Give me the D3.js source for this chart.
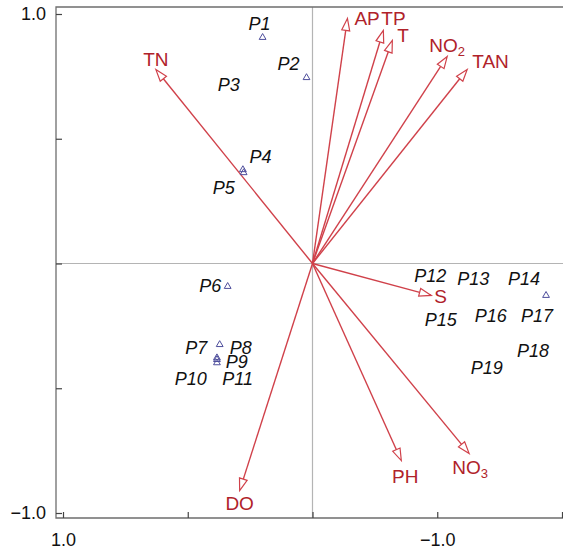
<!DOCTYPE html>
<html>
<head>
<meta charset="utf-8">
<script src="https://cdn.jsdelivr.net/npm/d3@7"></script>
<style>
  body { margin: 0; background: #fff; }
  svg { font-family: "Liberation Sans", Arial, sans-serif; }
</style>
</head>
<body>
<script>
// environmental vectors (axis 1, axis 2)
const envNames = ['TN', 'AP', 'TP', 'T', 'NO2', 'TAN', 'S', 'PH', 'NO3', 'DO'];
const envX = [0.628, -0.14, -0.284, -0.32, -0.54, -0.62, -0.476, -0.356, -0.628, 0.292];
const envY = [0.778, 0.982, 0.934, 0.894, 0.83, 0.778, -0.128, -0.79, -0.762, -0.91];

// sample scores (labels)
const siteNames = ['P1','P2','P3','P4','P5','P6','P7','P8','P9','P10','P11','P12','P13','P14','P15','P16','P17','P18','P19'];
const siteX = [0.212, 0.096, 0.336, 0.208, 0.356, 0.41, 0.466, 0.288, 0.304, 0.488, 0.3, -0.472, -0.644, -0.848, -0.514, -0.714, -0.9, -0.884, -0.698];
const siteY = [0.96, 0.8, 0.719, 0.427, 0.303, -0.09, -0.335, -0.335, -0.391, -0.463, -0.463, -0.05, -0.062, -0.062, -0.226, -0.21, -0.21, -0.347, -0.415];

// triangle markers
const triX = [0.2, 0.024, 0.279, 0.276, 0.34, 0.372, 0.383, 0.383, 0.383, -0.936];
const triY = [0.906, 0.745, 0.376, 0.364, -0.092, -0.325, -0.378, -0.385, -0.398, -0.128];

// axis ticks
const xTicks = [1, 0.5, 0, -0.5, -1];
const xTickLabels = ['1.0', '', '', '\u22121.0', ''];
const yTicks = [1, 0.5, 0, -0.5, -1];
const yTickLabels = ['1.0', '', '', '', '\u22121.0'];

// label placement for vectors (pixel offsets from arrow tip)
const envLabelPos = {
  TN: [0, -3, 'middle'], AP: [7, 7, 'start'], TP: [-2, -5, 'start'], T: [5, 2, 'start'],
  NO2: [-18, -4, 'start'], TAN: [5, -1, 'start'], S: [3, 8, 'start'],
  PH: [4, 22, 'middle'], NO3: [-17, 20, 'start'], DO: [0, 19, 'middle']
};

const W = 563, H = 550;
const frameL = 56, frameT = 7, frameB = 518;
const arrowCol = '#d0414a', labelCol = '#b0222a';

const svg = d3.select('body').append('svg').attr('width', W).attr('height', H);

const x = d3.scaleLinear().domain([1, -1]).range([63, 562]);
const y = d3.scaleLinear().domain([-1, 1]).range([513, 14]);

// zero lines
svg.append('line').attr('x1', x(0)).attr('x2', x(0)).attr('y1', frameT).attr('y2', frameB)
  .attr('stroke', '#b4b4b4').attr('stroke-width', 1.2);
svg.append('line').attr('x1', frameL).attr('x2', W).attr('y1', y(0)).attr('y2', y(0))
  .attr('stroke', '#b4b4b4').attr('stroke-width', 1.2);

// frame
svg.append('path').attr('d', `M${W},${frameT}H${frameL}V${frameB}H${W}`)
  .attr('fill', 'none').attr('stroke', '#6e6e6e').attr('stroke-width', 1.3);

const yAxis = d3.axisLeft(y).tickValues(yTicks).tickSize(-6).tickPadding(10)
  .tickFormat((d, i) => yTickLabels[i]);
const gy = svg.append('g').attr('transform', `translate(${frameL},0)`).call(yAxis);

const xAxis = d3.axisBottom(x).tickValues(xTicks).tickSize(-6).tickPadding(15)
  .tickFormat((d, i) => xTickLabels[i]);
const gx = svg.append('g').attr('transform', `translate(0,${frameB})`).call(xAxis);

[gx, gy].forEach(g => {
  g.select('.domain').remove();
  g.selectAll('.tick line').attr('stroke', '#444').attr('stroke-width', 1.2);
  g.selectAll('.tick text').attr('fill', '#111').style('font-size', '18px');
});

// arrows
const ox = x(0), oy = y(0);
const env = envNames.map((n, i) => ({ name: n, x: envX[i], y: envY[i] }));
const ag = svg.append('g');
env.forEach(d => {
  const tx = x(d.x), ty = y(d.y);
  const a = Math.atan2(ty - oy, tx - ox);
  const hl = 12, hw = 4;
  const bx = tx - hl * Math.cos(a), by = ty - hl * Math.sin(a);
  ag.append('line').attr('x1', ox).attr('y1', oy).attr('x2', bx).attr('y2', by)
    .attr('stroke', arrowCol).attr('stroke-width', 1.4);
  const p1 = [bx + hw * Math.sin(a), by - hw * Math.cos(a)];
  const p2 = [bx - hw * Math.sin(a), by + hw * Math.cos(a)];
  ag.append('path').attr('d', `M${tx},${ty}L${p1}L${p2}Z`)
    .attr('fill', '#fff').attr('stroke', arrowCol).attr('stroke-width', 1.2);

  const lp = envLabelPos[d.name];
  const t = ag.append('text').attr('x', tx + lp[0]).attr('y', ty + lp[1])
    .attr('text-anchor', lp[2]).attr('fill', labelCol).style('font-size', '19px');
  const m = d.name.match(/^(NO)(\d)$/);
  if (m) {
    t.append('tspan').text(m[1]);
    t.append('tspan').text(m[2]).attr('dy', 4).style('font-size', '13px');
  } else {
    t.text(d.name);
  }
});

// triangles
const tri = triX.map((v, i) => [v, triY[i]]);
svg.append('g').selectAll('path').data(tri).join('path')
  .attr('transform', d => `translate(${x(d[0])},${y(d[1])})`)
  .attr('d', d3.symbol(d3.symbolTriangle, 20))
  .attr('fill', 'none').attr('stroke', '#4e4e9c').attr('stroke-width', 1);

// site labels
const sites = siteNames.map((n, i) => ({ name: n, x: siteX[i], y: siteY[i] }));
svg.append('g').selectAll('text').data(sites).join('text')
  .attr('x', d => x(d.x)).attr('y', d => y(d.y)).attr('dy', '0.36em')
  .attr('text-anchor', 'middle')
  .style('font-size', '18px').style('font-style', 'italic').attr('fill', '#111')
  .text(d => d.name);
</script>
</body>
</html>
